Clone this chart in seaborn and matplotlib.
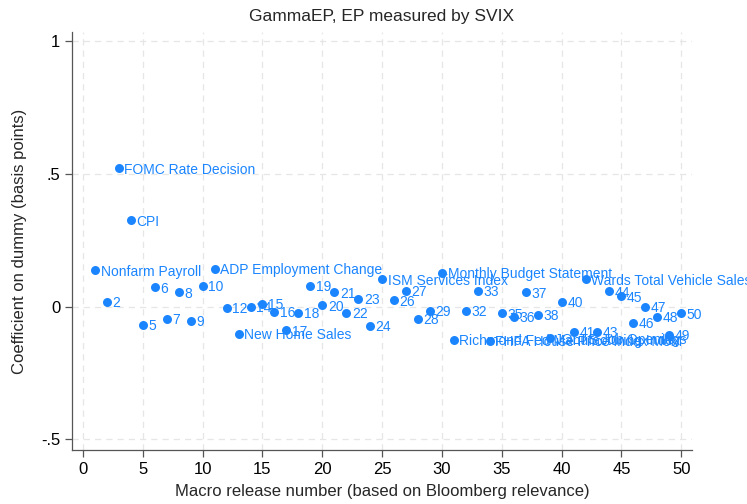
import numpy as np
import pandas as pd
import matplotlib
matplotlib.use("Agg")
import matplotlib.pyplot as plt
import seaborn as sns

# release number -> coefficient (basis points)
release = list(range(1, 51))
coef = [0.136, 0.019, 0.520, 0.325, -0.068, 0.072, -0.045, 0.053, -0.053, 0.079,
        0.143, -0.004, -0.102, 0.000, 0.011, -0.019, -0.090, -0.023, 0.079, 0.004,
        0.053, -0.023, 0.030, -0.072, 0.102, 0.023, 0.060, -0.045, -0.015, 0.128,
        -0.125, -0.015, 0.060, -0.128, -0.026, -0.038, 0.053, -0.030, -0.120, 0.019,
        -0.094, 0.102, -0.094, 0.057, 0.038, -0.060, 0.000, -0.038, -0.106, -0.026]

# named releases, everything else is labelled by its number
names = {
    1: "Nonfarm Payroll",
    3: "FOMC Rate Decision",
    4: "CPI",
    11: "ADP Employment Change",
    13: "New Home Sales",
    25: "ISM Services Index",
    30: "Monthly Budget Statement",
    31: "Richmond Fed Manufacturing Index",
    34: "FHFA House Price Index MoM",
    39: "JOLTS Job Openings",
    42: "Wards Total Vehicle Sales",
}

x_ticks = list(range(0, 51, 5))
y_ticks = [-0.5, 0, 0.5, 1]
y_ticklabels = ["-.5", "0", ".5", "1"]

df = pd.DataFrame({"release": release, "coef": coef})
df["label"] = [names.get(r, str(r)) for r in release]

sns.set_style("white")
plt.rcParams["font.family"] = ["Liberation Sans", "DejaVu Sans"]

blue = "#1a85ff"

fig = plt.figure(figsize=(7.47, 5.04), dpi=100)
ax = fig.add_axes([0.0964, 0.107, 0.83, 0.83])

sns.scatterplot(data=df, x="release", y="coef", color=blue, s=42,
                edgecolor=blue, linewidth=0, ax=ax, zorder=3)

for _, row in df.iterrows():
    ax.annotate(row["label"], (row["release"], row["coef"]),
                xytext=(4, -1), textcoords="offset points",
                va="center", ha="left", fontsize=10, color=blue, zorder=4)

ax.set_xlim(-0.92, 50.9)
ax.set_ylim(-0.54, 1.034)
ax.set_xticks(x_ticks)
ax.set_yticks(y_ticks)
ax.set_yticklabels(y_ticklabels)

ax.grid(True, color="#e6e6e6", linestyle=(0, (5, 4)), linewidth=0.9)
ax.set_axisbelow(True)
sns.despine(ax=ax)
for side in ["left", "bottom"]:
    ax.spines[side].set_color("#555555")
    ax.spines[side].set_linewidth(0.9)
ax.tick_params(axis="both", which="major", direction="out", length=5,
               width=0.9, color="#555555", labelsize=12, labelcolor="black",
               bottom=True, left=True)

ax.set_xlabel("Macro release number (based on Bloomberg relevance)", fontsize=12, labelpad=5)
ax.set_ylabel("Coefficient on dummy (basis points)", fontsize=12, labelpad=10)
ax.set_title("GammaEP, EP measured by SVIX", fontsize=12.5, pad=8)

fig.savefig("out.png", dpi=100)
